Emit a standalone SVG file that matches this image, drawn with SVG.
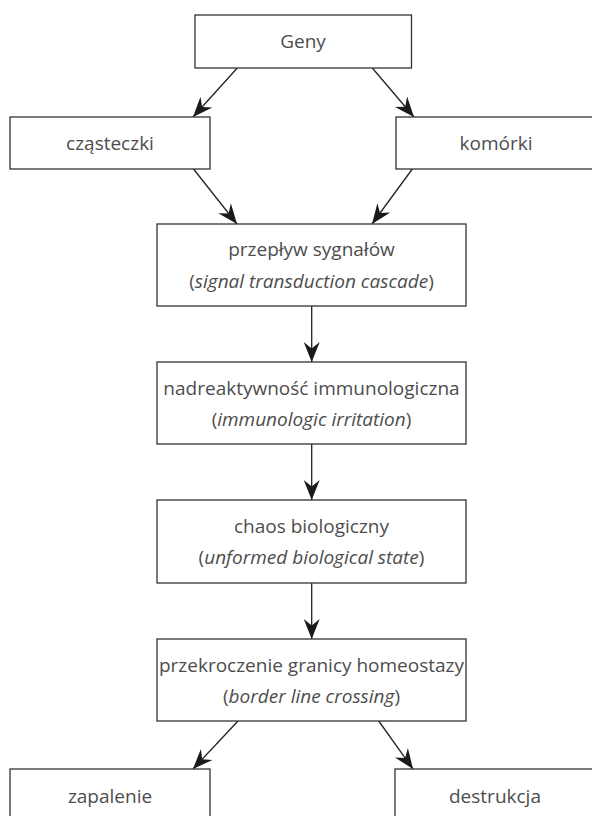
<svg xmlns="http://www.w3.org/2000/svg" width="592" height="816" viewBox="0 0 592 816">
<style>
.box{fill:#fff;stroke:#333;stroke-width:1.3}
.t{font-family:"Open Sans","Noto Sans",sans-serif;font-size:19px;fill:#4d4d4d;text-anchor:middle}
.i{font-style:italic}
.c{fill:none;stroke:#222;stroke-width:1.3;marker-end:url(#ah)}
</style>
<defs>
<marker id="ah" markerUnits="userSpaceOnUse" viewBox="-22 -10 24 20" refX="0" refY="0" markerWidth="24" markerHeight="20" orient="auto">
<path d="M0,0 L-20,-8 L-13.5,0 L-20,8 Z" fill="#1a1a1a"/>
</marker>
</defs>
<rect width="592" height="816" fill="#fff"/>
<g id="connectors">
<line class="c" x1="237.3" y1="68" x2="193" y2="117"/>
<line class="c" x1="372.3" y1="68" x2="414" y2="117"/>
<line class="c" x1="193.5" y1="169" x2="237" y2="224"/>
<line class="c" x1="412.3" y1="169" x2="372" y2="224"/>
<line class="c" x1="311.7" y1="306" x2="311.7" y2="362"/>
<line class="c" x1="311.7" y1="444" x2="311.7" y2="500"/>
<line class="c" x1="311.7" y1="583" x2="311.7" y2="639"/>
<line class="c" x1="238" y1="721" x2="193" y2="769"/>
<line class="c" x1="378.7" y1="721" x2="413" y2="769"/>
</g>
<g id="geny">
<rect class="box" x="195" y="15" width="216.5" height="53"/>
<text class="t" x="303" y="47.5">Geny</text>
</g>
<g id="czasteczki">
<rect class="box" x="10" y="117" width="200" height="52"/>
<text class="t" x="110" y="150">cząsteczki</text>
</g>
<g id="komorki">
<rect class="box" x="396" y="117" width="200" height="52"/>
<text class="t" x="496" y="150">komórki</text>
</g>
<g id="przeplyw">
<rect class="box" x="157" y="224" width="309" height="82"/>
<text class="t" x="311.5" y="256">przepływ sygnałów</text>
<text class="t" x="311.5" y="287.5">(<tspan class="i">signal transduction cascade</tspan>)</text>
</g>
<g id="nadreaktywnosc">
<rect class="box" x="157" y="362" width="309" height="82"/>
<text class="t" x="311.5" y="394.5">nadreaktywność immunologiczna</text>
<text class="t" x="311.5" y="425.5">(<tspan class="i">immunologic irritation</tspan>)</text>
</g>
<g id="chaos">
<rect class="box" x="157" y="500" width="309" height="83"/>
<text class="t" x="311.5" y="532.5">chaos biologiczny</text>
<text class="t" x="311.5" y="563.5">(<tspan class="i">unformed biological state</tspan>)</text>
</g>
<g id="przekroczenie">
<rect class="box" x="157" y="639" width="309" height="82"/>
<text class="t" x="311.5" y="671.5">przekroczenie granicy homeostazy</text>
<text class="t" x="311.5" y="702.5">(<tspan class="i">border line crossing</tspan>)</text>
</g>
<g id="zapalenie">
<rect class="box" x="10" y="769" width="200" height="52"/>
<text class="t" x="110" y="803">zapalenie</text>
</g>
<g id="destrukcja">
<rect class="box" x="395" y="769" width="201" height="52"/>
<text class="t" x="495" y="803">destrukcja</text>
</g>
</svg>
